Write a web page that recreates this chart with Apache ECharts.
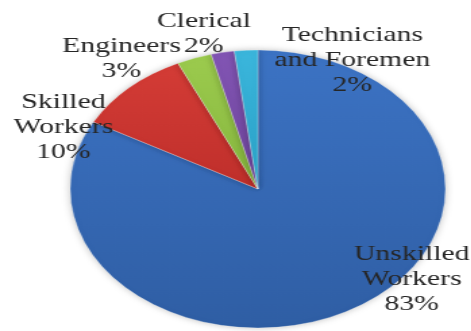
<!DOCTYPE html>
<html>
<head>
<meta charset="utf-8">
<script src="https://cdn.jsdelivr.net/npm/echarts@6/dist/echarts.min.js"></script>
<style>
  html, body { margin: 0; padding: 0; background: #ffffff; overflow: hidden; }
  #wrap { width: 471px; height: 331px; position: relative; overflow: hidden; }
  /* the chart is drawn narrow and stretched sideways, giving the oval pie */
  #chart { width: 349px; height: 331px; transform: scaleX(1.35); transform-origin: 0 0; }
</style>
</head>
<body>
<div id="wrap"><div id="chart"></div></div>
<script>
// Workforce composition (percent), clockwise from 12 o'clock
const categories = ['Unskilled\nWorkers', 'Skilled\nWorkers', 'Engineers', 'Clerical', 'Technicians\nand Foremen'];
const shares = [83, 10, 3, 2, 2];

const sliceColors = [
  ['#3c73c4', '#2f5ea4'],
  ['#d43c36', '#bf2f2b'],
  ['#9ccb4e', '#86b63e'],
  ['#8255b4', '#6e459c'],
  ['#3bb6dc', '#2aa2c8']
];

// label block centres in chart (unstretched) pixels
const labelSpots = [
  [305, 279],
  [47, 127],
  [90, 59],
  [151, 34],
  [261, 60]
];

const chart = echarts.init(document.getElementById('chart'));

chart.setOption({
  animation: false,
  series: [{
    type: 'pie',
    center: [191, 189],
    radius: 139,
    startAngle: 90,
    clockwise: true,
    avoidLabelOverlap: false,
    data: categories.map((name, i) => ({
      name: name,
      value: shares[i],
      itemStyle: {
        color: {
          type: 'linear', x: 0, y: 0, x2: 0, y2: 1,
          colorStops: [
            { offset: 0, color: sliceColors[i][0] },
            { offset: 1, color: sliceColors[i][1] }
          ]
        }
      }
    })),
    itemStyle: {
      borderColor: 'rgba(255,255,255,0.35)',
      borderWidth: 0.8,
      shadowBlur: 6,
      shadowColor: 'rgba(0,0,0,0.25)'
    },
    label: {
      show: true,
      position: 'outside',
      formatter: '{b}\n{c}%',
      fontFamily: 'Liberation Serif',
      fontSize: 22,
      lineHeight: 25,
      color: '#262626',
      align: 'center'
    },
    labelLine: { show: false },
    labelLayout: function (p) {
      const s = labelSpots[p.dataIndex];
      return { x: s[0], y: s[1], align: 'center', verticalAlign: 'middle' };
    },
    emphasis: { disabled: true }
  }]
});
</script>
</body>
</html>
